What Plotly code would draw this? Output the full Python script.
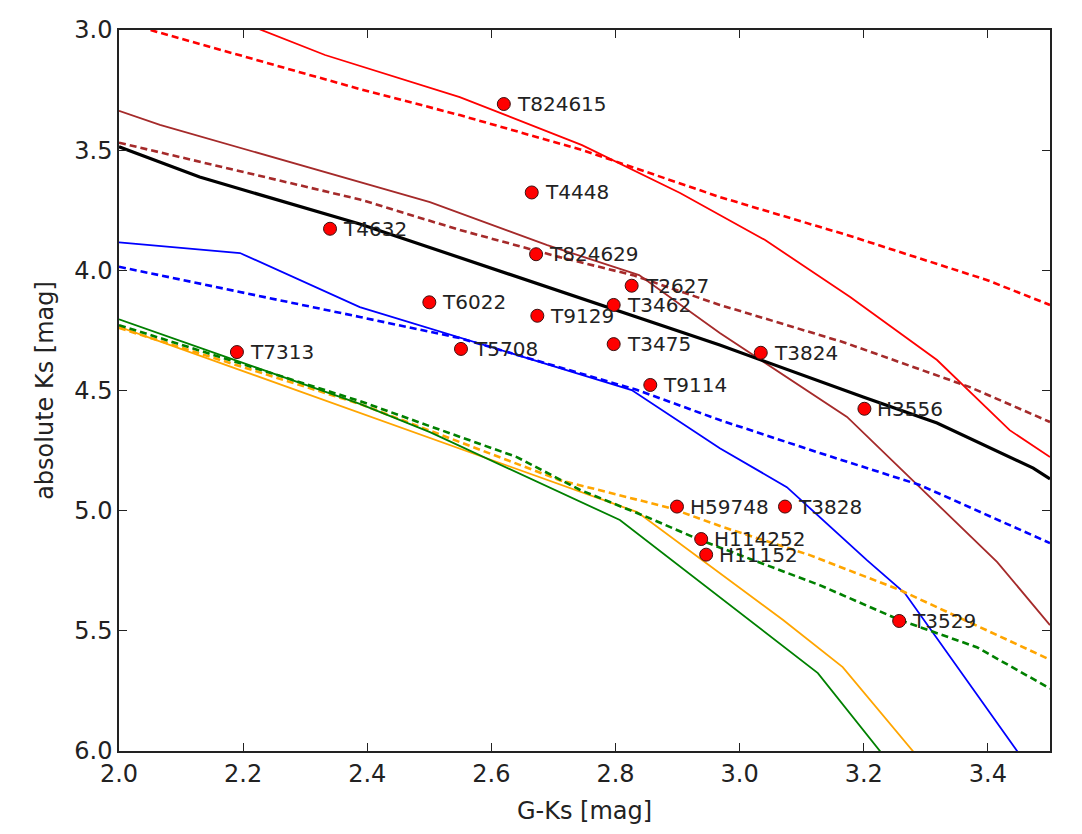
import plotly.graph_objects as go

# ---- data ----
star_names = ["T824615", "T4448", "T4632", "T824629", "T2627", "T6022", "T3462", "T9129",
              "T7313", "T5708", "T3475", "T3824", "T9114", "H3556", "H59748", "T3828",
              "H114252", "H11152", "T3529"]
star_gk = [2.620, 2.665, 2.340, 2.672, 2.826, 2.500, 2.797, 2.674,
           2.190, 2.551, 2.797, 3.034, 2.856, 3.201, 2.899, 3.073,
           2.938, 2.946, 3.257]
star_ks = [3.308, 3.676, 3.827, 3.933, 4.064, 4.133, 4.144, 4.189,
           4.340, 4.327, 4.307, 4.343, 4.477, 4.576, 4.983, 4.983,
           5.118, 5.183, 5.459]

red_solid_x = [2.200, 2.332, 2.549, 2.746, 2.904, 3.041, 3.178, 3.318, 3.435, 3.500]
red_solid_y = [2.970, 3.104, 3.279, 3.479, 3.678, 3.874, 4.111, 4.373, 4.665, 4.777]

red_dash_x = [2.000, 2.060, 2.388, 2.549, 2.746, 2.968, 3.178, 3.398, 3.500]
red_dash_y = [2.960, 3.007, 3.246, 3.354, 3.499, 3.695, 3.857, 4.040, 4.144]

brown_solid_x = [2.000, 2.066, 2.501, 2.690, 2.838, 2.968, 3.173, 3.415, 3.500]
brown_solid_y = [3.336, 3.395, 3.716, 3.895, 4.020, 4.261, 4.610, 5.214, 5.476]

brown_dash_x = [2.000, 2.388, 2.549, 2.710, 2.828, 2.968, 3.166, 3.371, 3.500]
brown_dash_y = [3.469, 3.705, 3.832, 3.945, 4.020, 4.144, 4.298, 4.486, 4.631]

black_x = [2.000, 2.130, 2.388, 2.646, 2.968, 3.199, 3.318, 3.473, 3.500]
black_y = [3.486, 3.612, 3.807, 4.032, 4.311, 4.527, 4.635, 4.823, 4.868]

blue_solid_x = [2.000, 2.195, 2.388, 2.561, 2.826, 2.968, 3.076, 3.205, 3.266, 3.447, 3.468]
blue_solid_y = [3.884, 3.928, 4.153, 4.290, 4.498, 4.740, 4.902, 5.206, 5.343, 6.000, 6.075]

blue_dash_x = [2.000, 2.103, 2.388, 2.549, 2.835, 2.968, 3.129, 3.290, 3.500]
blue_dash_y = [3.985, 4.040, 4.194, 4.282, 4.498, 4.623, 4.760, 4.893, 5.135]

green_solid_x = [2.000, 2.388, 2.501, 2.807, 3.126, 3.226, 3.250]
green_solid_y = [4.204, 4.556, 4.673, 5.039, 5.676, 6.000, 6.090]

green_dash_x = [2.000, 2.388, 2.496, 2.641, 2.743, 2.851, 2.936, 3.012, 3.129, 3.258, 3.382, 3.500]
green_dash_y = [4.228, 4.544, 4.644, 4.777, 4.914, 5.027, 5.122, 5.197, 5.310, 5.455, 5.568, 5.740]

orange_solid_x = [2.000, 2.388, 2.835, 3.070, 3.166, 3.279, 3.298]
orange_solid_y = [4.235, 4.594, 5.006, 5.455, 5.651, 6.000, 6.063]

orange_dash_x = [2.000, 2.388, 2.710, 2.888, 2.973, 3.113, 3.258, 3.392, 3.500]
orange_dash_y = [4.240, 4.556, 4.873, 4.989, 5.068, 5.185, 5.330, 5.489, 5.620]

x_ticks = [2.0, 2.2, 2.4, 2.6, 2.8, 3.0, 3.2, 3.4]
y_ticks = [3.0, 3.5, 4.0, 4.5, 5.0, 5.5, 6.0]

FONT = "DejaVu Sans"
fig = go.Figure()

def add_line(x, y, color, width, dash=None):
    fig.add_trace(go.Scatter(x=x, y=y, mode="lines",
                             line=dict(color=color, width=width, dash=dash or "solid"),
                             showlegend=False, hoverinfo="skip"))

DASH = "7px,4px"
add_line(red_solid_x, red_solid_y, "#ff0000", 1.8)
add_line(red_dash_x, red_dash_y, "#ff0000", 2.6, DASH)
add_line(brown_solid_x, brown_solid_y, "#a52a2a", 1.8)
add_line(brown_dash_x, brown_dash_y, "#a52a2a", 2.6, DASH)
add_line(blue_solid_x, blue_solid_y, "#0000ff", 1.8)
add_line(blue_dash_x, blue_dash_y, "#0000ff", 2.6, DASH)
add_line(orange_solid_x, orange_solid_y, "#ffa500", 1.8)
add_line(orange_dash_x, orange_dash_y, "#ffa500", 2.6, DASH)
add_line(green_solid_x, green_solid_y, "#008000", 1.8)
add_line(green_dash_x, green_dash_y, "#008000", 2.6, DASH)
add_line(black_x, black_y, "#000000", 3.2)

fig.add_trace(go.Scatter(x=star_gk, y=star_ks, mode="markers",
                         marker=dict(color="#ff0000", size=13,
                                     line=dict(color="#3a1010", width=1)),
                         showlegend=False, hoverinfo="skip"))

for name, gx, ky in zip(star_names, star_gk, star_ks):
    fig.add_annotation(x=gx, y=ky, text=name, showarrow=False,
                       xanchor="left", yanchor="middle", xshift=11,
                       font=dict(family=FONT, size=20, color="#222222"))

axis_common = dict(showline=True, linecolor="#222222", linewidth=1.5, mirror="ticks",
                   ticks="inside", ticklen=8, tickwidth=1.2, tickcolor="#222222",
                   showgrid=False, zeroline=False,
                   tickfont=dict(family=FONT, size=24, color="#222222"))

fig.update_xaxes(range=[2.0, 3.5], tickvals=x_ticks,
                 ticktext=[f"{v:.1f}" for v in x_ticks],
                 title=dict(text="G-Ks [mag]", font=dict(family=FONT, size=24, color="#222222"),
                            standoff=16),
                 **axis_common)
fig.update_yaxes(range=[6.0, 3.0], tickvals=y_ticks,
                 ticktext=[f"{v:.1f}" for v in y_ticks],
                 title=dict(text="absolute Ks [mag]", font=dict(family=FONT, size=24, color="#222222"),
                            standoff=14),
                 **axis_common)

fig.update_layout(width=1082, height=834, plot_bgcolor="white", paper_bgcolor="white",
                  margin=dict(l=119, r=32, t=30, b=83, autoexpand=False),
                  font=dict(family=FONT))

fig.write_html("out.html")
